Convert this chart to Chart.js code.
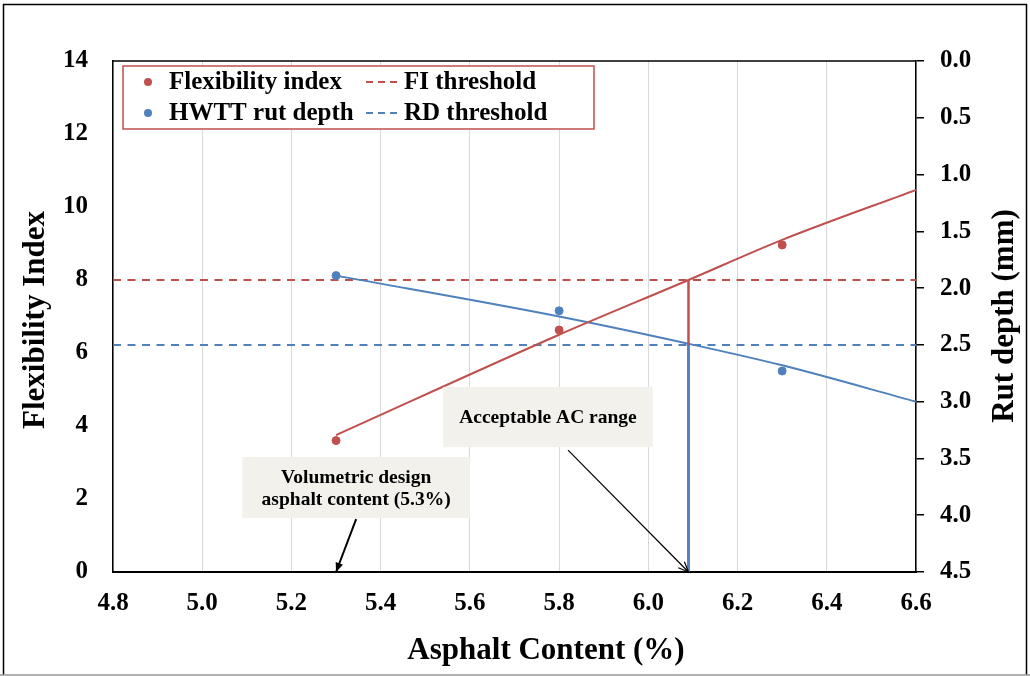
<!DOCTYPE html>
<html>
<head>
<meta charset="utf-8">
<script src="https://cdn.jsdelivr.net/npm/chart.js@4/dist/chart.umd.min.js"></script>
<style>
  html, body { margin: 0; padding: 0; background: #fff; }
  #wrap { width: 1030px; height: 676px; }
</style>
</head>
<body>
<div id="wrap"><canvas id="c" width="1030" height="676"></canvas></div>
<script>
// ---- data ----
const acContent = [5.3, 5.8, 6.3];                 // asphalt content (%)
const flexibilityIndex = [3.60, 6.63, 8.96];       // FI measured
const rutDepth = [1.89, 2.20, 2.73];               // HWTT rut depth (mm)
const trendAC = [5.3, 5.8, 6.09, 6.3, 6.6];        // trend curve abscissas
const fiTrend = [3.75, 6.50, 8.00, 9.10, 10.47];   // FI trend
const rutTrend = [1.89, 2.25, 2.49, 2.68, 3.00];   // rut depth trend
const fiThreshold = 8;
const rdThreshold = 2.5;
const acceptableAC = 6.09;
const designAC = 5.3;
const xLimits = [4.8, 6.6];
const fiLimits = [0, 14];
const rutLimits = [0, 4.5];
const seriesLabels = ['Flexibility index', 'HWTT rut depth', 'FI threshold', 'RD threshold'];
const axisTitles = { x: 'Asphalt Content (%)', y: 'Flexibility Index', y1: 'Rut depth (mm)' };
const noteAcceptable = ['Acceptable AC range'];
const noteDesign = ['Volumetric design', 'asphalt content (5.3%)'];

const RED = '#c0504d';
const BLUE = '#4f81bd';
const SERIF = "'Liberation Serif', 'Times New Roman', serif";

const pts = (xs, ys) => xs.map((x, i) => ({ x, y: ys[i] }));

const datasets = [
  { label: seriesLabels[0], type: 'scatter', data: pts(acContent, flexibilityIndex), yAxisID: 'y',
    backgroundColor: RED, borderColor: RED, pointRadius: 4, pointHoverRadius: 4, order: 0 },
  { label: seriesLabels[1], type: 'scatter', data: pts(acContent, rutDepth), yAxisID: 'y1',
    backgroundColor: BLUE, borderColor: BLUE, pointRadius: 4, pointHoverRadius: 4, order: 0 },
  { label: seriesLabels[2], type: 'line', data: pts(xLimits, [fiThreshold, fiThreshold]), yAxisID: 'y',
    borderColor: RED, borderWidth: 2, borderDash: [8, 6.5], pointRadius: 0, fill: false, order: 4 },
  { label: seriesLabels[3], type: 'line', data: pts(xLimits, [rdThreshold, rdThreshold]), yAxisID: 'y1',
    borderColor: BLUE, borderWidth: 2, borderDash: [8, 6.5], pointRadius: 0, fill: false, order: 4 },
  { label: 'FI trend', type: 'line', data: pts(trendAC, fiTrend), yAxisID: 'y',
    borderColor: RED, borderWidth: 2, pointRadius: 0, fill: false, cubicInterpolationMode: 'monotone', order: 3 },
  { label: 'Rut trend', type: 'line', data: pts(trendAC, rutTrend), yAxisID: 'y1',
    borderColor: BLUE, borderWidth: 2, pointRadius: 0, fill: false, cubicInterpolationMode: 'monotone', order: 3 },
  { label: 'FI limit', type: 'line', data: pts([acceptableAC, acceptableAC], [fiThreshold, fiLimits[0]]), yAxisID: 'y',
    borderColor: RED, borderWidth: 2.5, pointRadius: 0, fill: false, order: 2 },
  { label: 'RD limit', type: 'line', data: pts([acceptableAC, acceptableAC], [rdThreshold, rutLimits[1]]), yAxisID: 'y1',
    borderColor: BLUE, borderWidth: 2.5, pointRadius: 0, fill: false, order: 1 }
];

// annotation boxes positioned in data units (x: AC %, y: FI)
const notes = [
  { lines: noteAcceptable, box: [5.54, 6.01, 3.42, 5.07], tail: [5.82, 3.34], head: [acceptableAC, 0], arrow: 'open', width: 1.2 },
  { lines: noteDesign, box: [5.09, 5.60, 1.48, 3.15], tail: [5.345, 1.45], head: [designAC, 0], arrow: 'filled', width: 2 }
];

const framePlugin = {
  id: 'frame',
  beforeDraw(chart) {
    const ctx = chart.ctx;
    ctx.save();
    ctx.fillStyle = '#fff';
    ctx.fillRect(0, 0, chart.width, chart.height);
    ctx.restore();
  },
  afterDraw(chart) {
    const ctx = chart.ctx;
    ctx.save();
    ctx.strokeStyle = '#000';
    ctx.lineWidth = 1.5;
    ctx.beginPath();
    ctx.moveTo(3.5, 675); ctx.lineTo(3.5, 4.5); ctx.lineTo(1026.5, 4.5); ctx.lineTo(1026.5, 675);
    ctx.stroke();
    ctx.strokeStyle = '#999';
    ctx.beginPath(); ctx.moveTo(0, 675); ctx.lineTo(1030, 675); ctx.stroke();
    const a = chart.chartArea;
    ctx.strokeStyle = '#000';
    ctx.lineWidth = 1.5;
    ctx.beginPath(); ctx.moveTo(a.left, a.top); ctx.lineTo(a.right, a.top); ctx.stroke();
    ctx.restore();
  }
};

const titlesPlugin = {
  id: 'titles',
  afterDraw(chart) {
    const ctx = chart.ctx;
    ctx.save();
    ctx.fillStyle = '#000';
    ctx.font = 'bold 31px ' + SERIF;
    ctx.textAlign = 'center';
    ctx.textBaseline = 'middle';
    ctx.fillText(axisTitles.x, 546, 651);
    ctx.save();
    ctx.translate(36, 320);
    ctx.rotate(-Math.PI / 2);
    ctx.fillText(axisTitles.y, 0, 0);
    ctx.restore();
    ctx.save();
    ctx.translate(1005, 316);
    ctx.rotate(-Math.PI / 2);
    ctx.fillText(axisTitles.y1, 0, 0);
    ctx.restore();
    ctx.restore();
  }
};

function arrowHead(ctx, x0, y0, x1, y1, size, filled) {
  const ang = Math.atan2(y1 - y0, x1 - x0);
  const a1 = ang + Math.PI - 0.4, a2 = ang + Math.PI + 0.4;
  ctx.beginPath();
  ctx.moveTo(x1 + size * Math.cos(a1), y1 + size * Math.sin(a1));
  ctx.lineTo(x1, y1);
  ctx.lineTo(x1 + size * Math.cos(a2), y1 + size * Math.sin(a2));
  if (filled) { ctx.closePath(); ctx.fill(); } else { ctx.stroke(); }
}

const notesPlugin = {
  id: 'notes',
  afterDatasetsDraw(chart) {
    const ctx = chart.ctx;
    const sx = chart.scales.x, sy = chart.scales.y;
    ctx.save();
    notes.forEach(n => {
      const l = sx.getPixelForValue(n.box[0]), r = sx.getPixelForValue(n.box[1]);
      const b = sy.getPixelForValue(n.box[2]), t = sy.getPixelForValue(n.box[3]);
      ctx.fillStyle = '#f2f1ec';
      ctx.fillRect(l, t, r - l, b - t);
      ctx.fillStyle = '#000';
      ctx.font = 'bold 19.5px ' + SERIF;
      ctx.textAlign = 'center';
      ctx.textBaseline = 'middle';
      const cx = (l + r) / 2, cy = (t + b) / 2;
      const lh = 22;
      n.lines.forEach((s, i) => {
        ctx.fillText(s, cx, cy + (i - (n.lines.length - 1) / 2) * lh + 1);
      });
      const x0 = sx.getPixelForValue(n.tail[0]), y0 = sy.getPixelForValue(n.tail[1]);
      const x1 = sx.getPixelForValue(n.head[0]), y1 = sy.getPixelForValue(n.head[1]);
      ctx.strokeStyle = '#000';
      ctx.lineWidth = n.width;
      ctx.beginPath(); ctx.moveTo(x0, y0); ctx.lineTo(x1, y1); ctx.stroke();
      arrowHead(ctx, x0, y0, x1, y1, n.arrow === 'filled' ? 10 : 11, n.arrow === 'filled');
    });
    ctx.restore();
  }
};

const legendPlugin = {
  id: 'boxLegend',
  afterDatasetsDraw(chart) {
    const ctx = chart.ctx;
    const a = chart.chartArea;
    const ds = chart.data.datasets;
    const bx = a.left + 10, by = a.top + 5, bw = 471, bh = 63;
    ctx.save();
    ctx.fillStyle = '#fff';
    ctx.fillRect(bx, by, bw, bh);
    ctx.strokeStyle = RED;
    ctx.lineWidth = 1.5;
    ctx.strokeRect(bx, by, bw, bh);
    ctx.font = 'bold 25px ' + SERIF;
    ctx.textBaseline = 'middle';
    ctx.textAlign = 'left';
    const rows = [by + 16, by + 47];
    [ds[0], ds[1]].forEach((d, i) => {
      ctx.fillStyle = d.backgroundColor;
      ctx.beginPath(); ctx.arc(bx + 25, rows[i], 4, 0, Math.PI * 2); ctx.fill();
      ctx.fillStyle = '#000';
      ctx.fillText(d.label, bx + 46, rows[i] + 1);
    });
    [ds[2], ds[3]].forEach((d, i) => {
      ctx.strokeStyle = d.borderColor;
      ctx.lineWidth = 2;
      ctx.setLineDash([7, 5]);
      ctx.beginPath(); ctx.moveTo(bx + 243, rows[i]); ctx.lineTo(bx + 279, rows[i]); ctx.stroke();
      ctx.setLineDash([]);
      ctx.fillStyle = '#000';
      ctx.fillText(d.label, bx + 281, rows[i] + 1);
    });
    ctx.restore();
  }
};

const tickFont = { family: SERIF, size: 25, weight: 'bold' };

new Chart(document.getElementById('c'), {
  type: 'scatter',
  data: { datasets },
  options: {
    responsive: false,
    animation: false,
    devicePixelRatio: 1,
    layout: { padding: { top: 61, left: 0, right: 0, bottom: 0 } },
    plugins: { legend: { display: false }, tooltip: { enabled: false } },
    scales: {
      x: {
        type: 'linear', position: 'bottom', min: xLimits[0], max: xLimits[1],
        ticks: { stepSize: 0.2, callback: v => Number(v).toFixed(1), font: tickFont, color: '#000', padding: 17, maxRotation: 0 },
        grid: { color: '#d9d9d9', lineWidth: 1, drawTicks: false, tickLength: 0 },
        border: { display: true, color: '#000', width: 2 },
        afterFit: s => { s.height = 104; }
      },
      y: {
        type: 'linear', position: 'left', min: fiLimits[0], max: fiLimits[1],
        ticks: { stepSize: 2, font: tickFont, color: '#000', padding: 25 },
        grid: { display: false, drawTicks: false, tickLength: 0 },
        border: { display: true, color: '#000', width: 1.5 },
        afterFit: s => { s.width = 113; }
      },
      y1: {
        type: 'linear', position: 'right', min: rutLimits[0], max: rutLimits[1], reverse: true,
        ticks: { stepSize: 0.5, callback: v => Number(v).toFixed(1), font: tickFont, color: '#000', padding: 16 },
        grid: { drawOnChartArea: false, drawTicks: true, tickLength: 8, color: '#000', lineWidth: 1.5 },
        border: { display: true, color: '#000', width: 1.5 },
        afterFit: s => { s.width = 114; }
      }
    }
  },
  plugins: [framePlugin, notesPlugin, legendPlugin, titlesPlugin]
});
</script>
</body>
</html>
